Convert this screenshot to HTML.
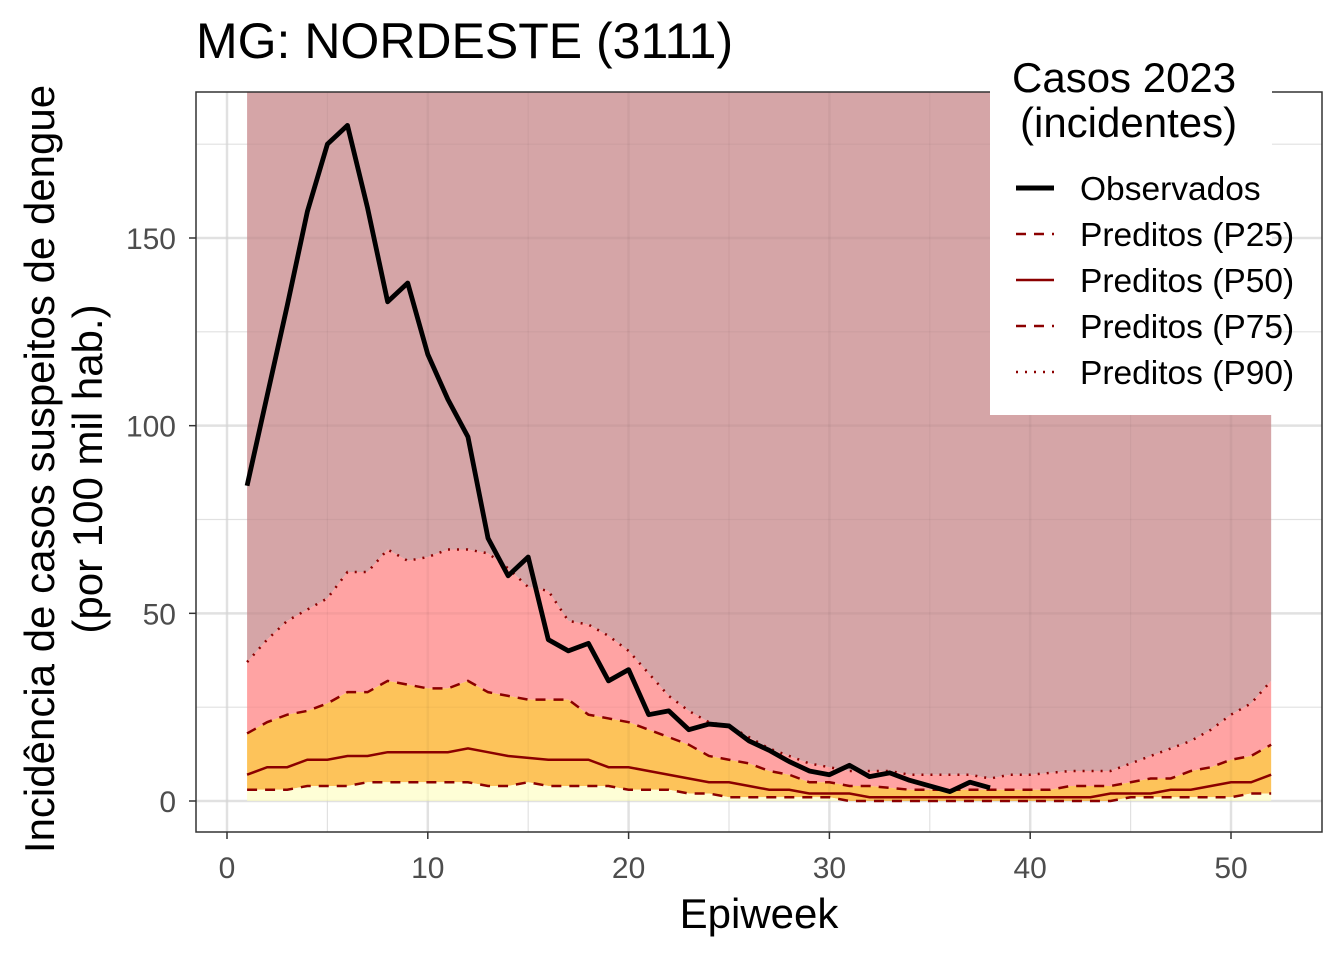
<!DOCTYPE html>
<html><head><meta charset="utf-8"><style>
body{margin:0;background:#fff;}
svg text{font-family:"Liberation Sans",Arial,sans-serif;}
</style></head><body>
<svg id="chart" width="1344" height="960" viewBox="0 0 1344 960" xmlns="http://www.w3.org/2000/svg">
<text x="196" y="58" font-size="50" fill="#000">MG: NORDESTE (3111)</text>
<g id="plot"></g>
<text x="759" y="928" font-size="42" text-anchor="middle">Epiweek</text>
<g transform="translate(0,469) rotate(-90)">
<text x="0" y="54" font-size="42" text-anchor="middle">Incidência de casos suspeitos de dengue</text>
<text x="0" y="102" font-size="42" text-anchor="middle">(por 100 mil hab.)</text>
</g>
<g>
<rect x="990" y="52" width="282" height="363" fill="#fff"/>
<text x="1012" y="92" font-size="42">Casos 2023</text>
<text x="1020" y="137" font-size="42">(incidentes)</text>
<g><line x1="1016" x2="1054" y1="188" y2="188" stroke="#000" stroke-width="5"/><text x="1080" y="200" font-size="33.5">Observados</text></g>
<g><line x1="1016" x2="1054" y1="234" y2="234" stroke="#8B0000" stroke-width="2.5" stroke-dasharray="10,8"/><text x="1080" y="246" font-size="33.5">Preditos (P25)</text></g>
<g><line x1="1016" x2="1054" y1="280" y2="280" stroke="#8B0000" stroke-width="2.5"/><text x="1080" y="292" font-size="33.5">Preditos (P50)</text></g>
<g><line x1="1016" x2="1054" y1="326" y2="326" stroke="#8B0000" stroke-width="2.5" stroke-dasharray="10,8"/><text x="1080" y="338" font-size="33.5">Preditos (P75)</text></g>
<g><line x1="1016" x2="1054" y1="372" y2="372" stroke="#8B0000" stroke-width="2.5" stroke-dasharray="2,7"/><text x="1080" y="384" font-size="33.5">Preditos (P90)</text></g>
</g>
</svg>
<script>
const observed=[84,108,132,157,175,180,158,133,138,119,107,97,70,60,65,43,40,42,32,35,23,24,19,20.5,20,16,13.5,10.5,8,7,9.5,6.5,7.5,5.5,4,2.5,5,3.5];
const p25=[3,3,3,4,4,4,5,5,5,5,5,5,4,4,5,4,4,4,4,3,3,3,2,2,1,1,1,1,1,1,0,0,0,0,0,0,0,0,0,0,0,0,0,0,1,1,1,1,1,1,2,2];
const p50=[7,9,9,11,11,12,12,13,13,13,13,14,13,12,11.5,11,11,11,9,9,8,7,6,5,5,4,3,3,2,2,2,1,1,1,1,1,1,1,1,1,1,1,1,2,2,2,3,3,4,5,5,7];
const p75=[18,21,23,24,26,29,29,32,31,30,30,32,29,28,27,27,27,23,22,21,19,17,15,12,11,10,8,7,5,5,4,4,3.5,3,3,3,3,3,3,3,3,4,4,4,5,6,6,8,9,11,12,15];
const p90=[37,43,48,51,54,61,61,67,64,65,67,67,66,62,57,56,48,47,44,40,34,28,24,21,20,17,14,12,10,9,8,8,8,7,7,7,7,6,7,7,7.5,8,8,8,10,12,14,16,19,23,26,32];
const xTicks=[0,10,20,30,40,50];
const yTicks=[0,50,100,150];

const NS="http://www.w3.org/2000/svg";
const L=196,R=1322,T=92,B=832;
const xs=w=>227+(w-0)*(1231-227)/50;
const ys=v=>801-v*(801-238)/150;
const g=document.getElementById('plot');
function mk(tag,attrs,parent){const e=document.createElementNS(NS,tag);for(const k in attrs)e.setAttribute(k,attrs[k]);(parent||g).appendChild(e);return e;}
const bg=mk('rect',{x:L,y:T,width:R-L,height:B-T,fill:'#fff'});


[5,15,25,35,45].forEach(v=>{const l=mk('line',{x1:xs(v),x2:xs(v),y1:T,y2:B,stroke:'#ebebeb','stroke-width':1.2});});
[25,75,125,175].forEach(v=>{const l=mk('line',{x1:L,x2:R,y1:ys(v),y2:ys(v),stroke:'#ebebeb','stroke-width':1.2});});
xTicks.forEach(v=>{const l=mk('line',{x1:xs(v),x2:xs(v),y1:T,y2:B,stroke:'#ebebeb','stroke-width':2.5});});
yTicks.forEach(v=>{const l=mk('line',{x1:L,x2:R,y1:ys(v),y2:ys(v),stroke:'#ebebeb','stroke-width':2.5});});
const zeros=p25.map(()=>0);
const topVals=p25.map(()=>1e6);
const clip=mk('clipPath',{id:'pc'});mk('rect',{x:L,y:T,width:R-L,height:B-T},clip);
const gc=mk('g',{'clip-path':'url(#pc)'});
function bandC(lo,hiVals,col,name){
  let d='';
  hiVals.forEach((v,i)=>{d+=(i?'L':'M')+xs(i+1)+','+Math.max(ys(v),T-5);});
  for(let i=lo.length-1;i>=0;i--)d+='L'+xs(i+1)+','+ys(lo[i]);
  const p=mk('path',{d:d+'Z',fill:col},gc);
  
  
}
bandC(p90,topVals,'#d5a5a7','band-above-p90');
bandC(p75,p90,'#ffa3a3','band-p75-p90');
bandC(p25,p75,'#fdc35a','band-p25-p75');
bandC(zeros,p25,'#fefed6','band-below-p25');
xTicks.concat([5,15,25,35,45]).forEach(v=>{const l=mk('line',{x1:xs(v),x2:xs(v),y1:T,y2:B,stroke:'rgba(0,0,0,0.04)','stroke-width':v%10?1.2:2.5},gc);});
yTicks.concat([25,75,125,175]).forEach(v=>{const l=mk('line',{x1:L,x2:R,y1:ys(v),y2:ys(v),stroke:'rgba(0,0,0,0.04)','stroke-width':v%50?1.2:2.5},gc);});
function line(arr,style,name){
  const pts=arr.map((v,i)=>xs(i+1)+','+ys(v)).join(' ');
  const p=mk('polyline',Object.assign({points:pts,fill:'none'},style),gc);
  
  
}
line(p25,{stroke:'#8B0000','stroke-width':2.5,'stroke-dasharray':'10,8'},'line-p25');
line(p50,{stroke:'#8B0000','stroke-width':2.5},'line-p50');
line(p75,{stroke:'#8B0000','stroke-width':2.5,'stroke-dasharray':'10,8'},'line-p75');
line(p90,{stroke:'#8B0000','stroke-width':2.5,'stroke-dasharray':'2,7'},'line-p90');
line(observed,{stroke:'#000','stroke-width':4.8,'stroke-linejoin':'round'},'line-observed');
const fr=mk('rect',{x:L,y:T,width:R-L,height:B-T,fill:'none',stroke:'#333','stroke-width':1.5});


xTicks.forEach(v=>{
  const t=mk('line',{x1:xs(v),x2:xs(v),y1:B,y2:B+7,stroke:'#333','stroke-width':1.5});
  
  
  const tx=mk('text',{x:xs(v),y:878,'font-size':30,'text-anchor':'middle',fill:'#4d4d4d'});tx.textContent=v;
  
  
});
yTicks.forEach(v=>{
  const t=mk('line',{x1:L-7,x2:L,y1:ys(v),y2:ys(v),stroke:'#333','stroke-width':1.5});
  
  
  const tx=mk('text',{x:L-20,y:ys(v)+11,'font-size':30,'text-anchor':'end',fill:'#4d4d4d'});tx.textContent=v;
  
  
});
</script>
</body></html>
